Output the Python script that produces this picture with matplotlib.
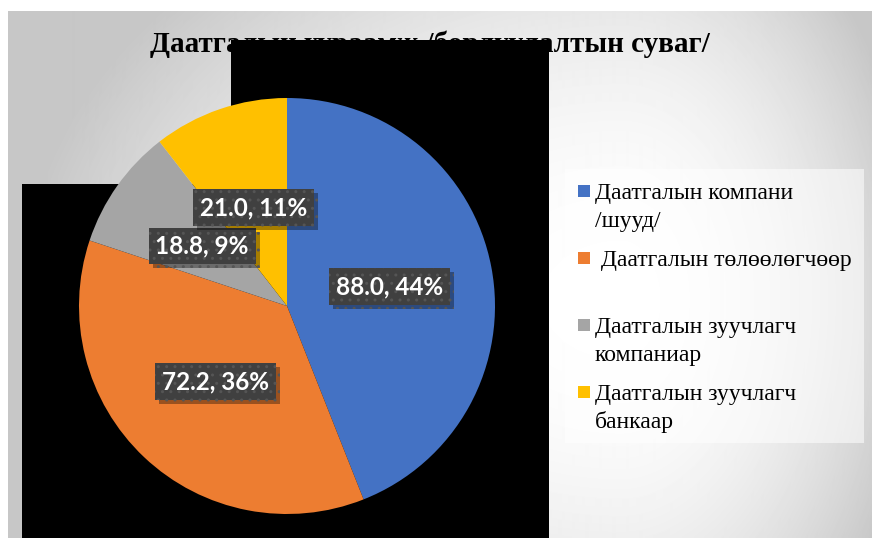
#!/usr/bin/env python3
# -*- coding: utf-8 -*-

import numpy as np
import matplotlib
matplotlib.use("Agg")
import matplotlib.pyplot as plt
import matplotlib.patheffects as pe
from matplotlib.patches import Rectangle

# ====== ДАТА ======
title = "Даатгалын хураамж /борлуулалтын суваг/"
categories = [
    "Даатгалын компани\n/шууд/",
    " Даатгалын төлөөлөгчөөр",
    "Даатгалын зуучлагч\nкомпаниар",
    "Даатгалын зуучлагч\nбанкаар",
]
values = [88.0, 72.2, 18.8, 21.0]
colors = ["#4472C4", "#ED7D31", "#A5A5A5", "#FFC000"]

# ====== ЗУРАГ ======
W, H = 872, 538
fig = plt.figure(figsize=(W / 100, H / 100), dpi=100)

# background layer in pixel coordinates
bg = fig.add_axes([0, 0, 1, 1])
bg.axis("off")

yy, xx = np.mgrid[11:H, 8:W]
dx = xx - 620.0
sx = np.where(dx < 0, 600.0, 300.0)
t = np.sqrt((dx / sx) ** 2 + ((yy - 300.0) / 450.0) ** 2)
shade = 1 - 0.22 * np.clip(t, 0, 1) ** 2
bg.imshow(shade, cmap="gray", vmin=0, vmax=1, extent=(8, W, H, 11),
          origin="upper", interpolation="bilinear", aspect="auto", zorder=0)
bg.set_xlim(0, W)
bg.set_ylim(H, 0)

bg.text(430, 44, title, ha="center", va="center", fontsize=21,
        fontweight="bold", family="Liberation Serif", zorder=1)

# black blocks over the chart (as in the source picture)
bg.add_patch(Rectangle((231, 40), 318, 144, color="black", lw=0, zorder=2))
bg.add_patch(Rectangle((22, 184), 527, H - 184, color="black", lw=0, zorder=2))

# legend
bg.add_patch(Rectangle((565, 169), 299, 274, facecolor="white", alpha=0.55,
                       lw=0, zorder=2))
for i, (lab, col) in enumerate(zip(categories, colors)):
    yb = 199 + i * 67
    bg.add_patch(Rectangle((578, yb - 14), 12, 12, color=col, lw=0, zorder=3))
    for j, line in enumerate(lab.split("\n")):
        bg.text(595, yb + j * 28, line, va="baseline", ha="left", fontsize=17,
                family="Liberation Serif", zorder=3)

# pie
cx, cy, r = 287, 306, 208
ax = fig.add_axes([(cx - r) / W, (H - cy - r) / H, 2 * r / W, 2 * r / H])
ax.patch.set_alpha(0)
total = sum(values)


def fmt(p):
    # Excel style rounding (half up)
    return f"{p * total / 100:.1f}, {int(np.floor(p + 0.5 + 1e-9))}%"


wedges, texts, autotexts = ax.pie(
    values, colors=colors, startangle=90, counterclock=False,
    autopct=fmt, pctdistance=0.5, wedgeprops=dict(linewidth=0),
)
ax.set_xlim(-1, 1)
ax.set_ylim(-1, 1)

for at in autotexts:
    at.set(color="white", zorder=5, ha="center", va="center", fontsize=17.5,
           fontweight="bold", family="Lato")
    at.set_bbox(dict(boxstyle="square,pad=0.28", fc="#404040", ec="#555555",
                     lw=0, hatch=".."))
    at.get_bbox_patch().set_path_effects([
        pe.SimplePatchShadow(offset=(3, -3), shadow_rgbFace="black", alpha=0.35),
        pe.Normal(),
    ])

plt.savefig("out.png", dpi=100)
plt.close(fig)
